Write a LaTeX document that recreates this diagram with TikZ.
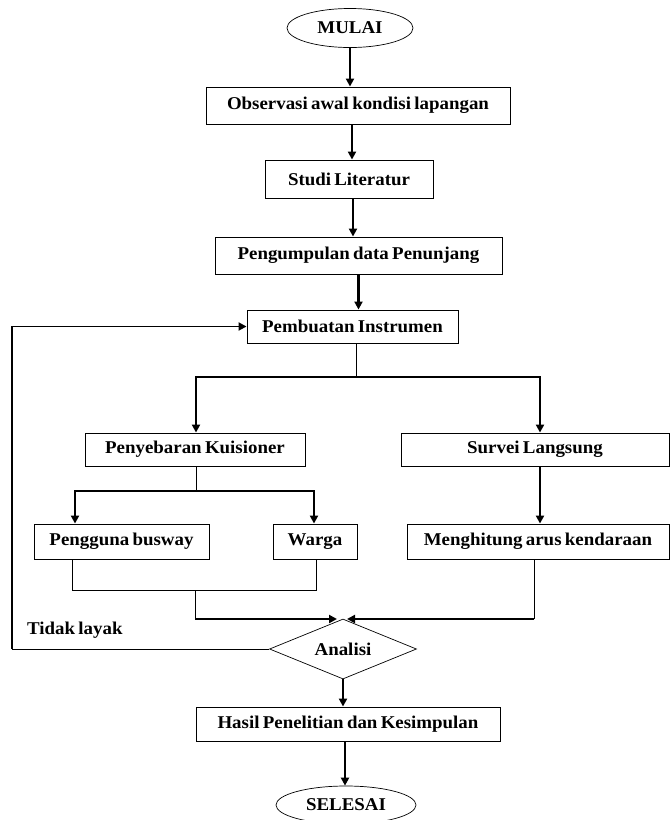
\documentclass[tikz,border=0pt]{standalone}
\usepackage{fontspec}
\newfontfamily\lblfont[FakeStretch=1.05, WordSpace=0.7]{Liberation Serif}
\usetikzlibrary{shapes.geometric,arrows.meta,calc}
\tikzset{
  txt/.style={font=\lblfont\bfseries\fontsize{18}{20}\selectfont, text=black},
  boxnode/.style={txt, draw=black, line width=0.9pt, rectangle, inner sep=0pt, minimum height=#1},
  boxnode/.default=35pt,
  ovalnode/.style={txt, draw=black, line width=0.7pt, ellipse, inner sep=0pt},
  decnode/.style={txt, draw=black, line width=0.7pt, diamond, aspect=2.45, inner sep=0pt},
  arr/.style={line width=2.4pt, -{Triangle[length=8pt,width=8pt]}},
  fbarr/.style={line width=1.8pt, -{Triangle[length=8pt,width=8pt]}},
  thickline/.style={line width=2.4pt},
  thinline/.style={line width=0.9pt},
}
\begin{document}
\begin{tikzpicture}[x=1pt,y=-1pt]
\useasboundingbox (0,0) rectangle (672,820);
\fill[white] (0,0) rectangle (672,820);

% nodes
\node[ovalnode, minimum width=126pt, minimum height=39pt] (mulai) at (350,28) {MULAI};
\node[boxnode=37pt, minimum width=304pt] (obs) at (358,105.5) {Observasi awal kondisi lapangan};
\node[boxnode=38pt, minimum width=168pt] (studi) at (349,179) {Studi Literatur};
\node[boxnode=37pt, minimum width=287pt] (pengum) at (358.5,255.5) {Pengumpulan data Penunjang};
\node[boxnode=33pt, minimum width=211pt] (pembuatan) at (352.5,326.5) {Pembuatan Instrumen};
\node[boxnode=33pt, minimum width=220pt] (penyebaran) at (195,449.5) {Penyebaran Kuisioner};
\node[boxnode=33pt, minimum width=268pt] (survei) at (535,449.5) {Survei Langsung};
\node[boxnode=35pt, minimum width=175pt] (pengguna) at (121.5,541.5) {Pengguna busway};
\node[boxnode=35pt, minimum width=84pt] (warga) at (315,541.5) {Warga};
\node[boxnode=35pt, minimum width=262pt] (menghitung) at (538,541.5) {Menghitung arus kendaraan};
\node[decnode, minimum width=147pt, minimum height=60pt] (analisi) at (343,649) {Analisi};
\node[boxnode=34pt, minimum width=304pt] (hasil) at (348,724) {Hasil Penelitian dan Kesimpulan};
\node[ovalnode, minimum width=140pt, minimum height=38pt] (selesai) at (346,805) {SELESAI};
\node[txt, anchor=west, inner sep=0pt] (tidak) at (27,630) {Tidak layak};

% coordinates
\coordinate (b1) at (356,377);
\coordinate (b1l) at (196,377);
\coordinate (b1r) at (540,377);
\coordinate (b2) at (196,491);
\coordinate (b2l) at (75,491);
\coordinate (b2r) at (314,491);
\coordinate (j1) at (72,590);
\coordinate (j2) at (316,590);
\coordinate (j3) at (195,590);
\coordinate (m1) at (195,619);
\coordinate (m2) at (534,619);
\coordinate (tipl) at (337,619);
\coordinate (tipr) at (347,619);
\coordinate (fb) at (12,649);

% main vertical flow
\draw[arr] (mulai.south) -- (mulai.south |- obs.north);
\draw[arr] ([xshift=-6pt]obs.south) -- ([xshift=-6pt]obs.south |- studi.north);
\draw[arr] ([xshift=4pt]studi.south) -- ([xshift=4pt]studi.south |- pengum.north);
\draw[arr] (pengum.south) -- (pengum.south |- pembuatan.north);

% branch from Pembuatan Instrumen
\draw[thinline] (pembuatan.south -| b1) -- (b1);
\draw[thickline, line cap=rect] (b1l) -- (b1r);
\draw[arr] (b1l) -- (b1l |- penyebaran.north);
\draw[arr] (b1r) -- (b1r |- survei.north);

% branch from Penyebaran Kuisioner
\draw[thinline] (penyebaran.south -| b2) -- (b2);
\draw[thickline, line cap=rect] (b2l) -- (b2r);
\draw[arr] (b2l) -- (b2l |- pengguna.north);
\draw[arr] (b2r) -- (b2r |- warga.north);

% Survei -> Menghitung
\draw[arr] (b1r |- survei.south) -- (b1r |- menghitung.north);

% join of Pengguna and Warga
\draw[thinline] (pengguna.south -| j1) -- (j1) -- (j2) -- (warga.south -| j2);
\draw[thinline] (j3) -- (m1);
\draw[thinline] (menghitung.south -| m2) -- (m2);

% merge into Analisi
\draw[arr] (m1) -- (tipl);
\draw[arr] (m2) -- (tipr);

% feedback loop
\draw[thinline] (analisi.west) -- (fb);
\draw[fbarr] (fb) |- (pembuatan.west);

% lower flow
\draw[arr] (analisi.south) -- (analisi.south |- hasil.north);
\draw[arr] ([xshift=-3pt]hasil.south) -- ([xshift=-3pt]hasil.south |- selesai.north);
\end{tikzpicture}
\end{document}
